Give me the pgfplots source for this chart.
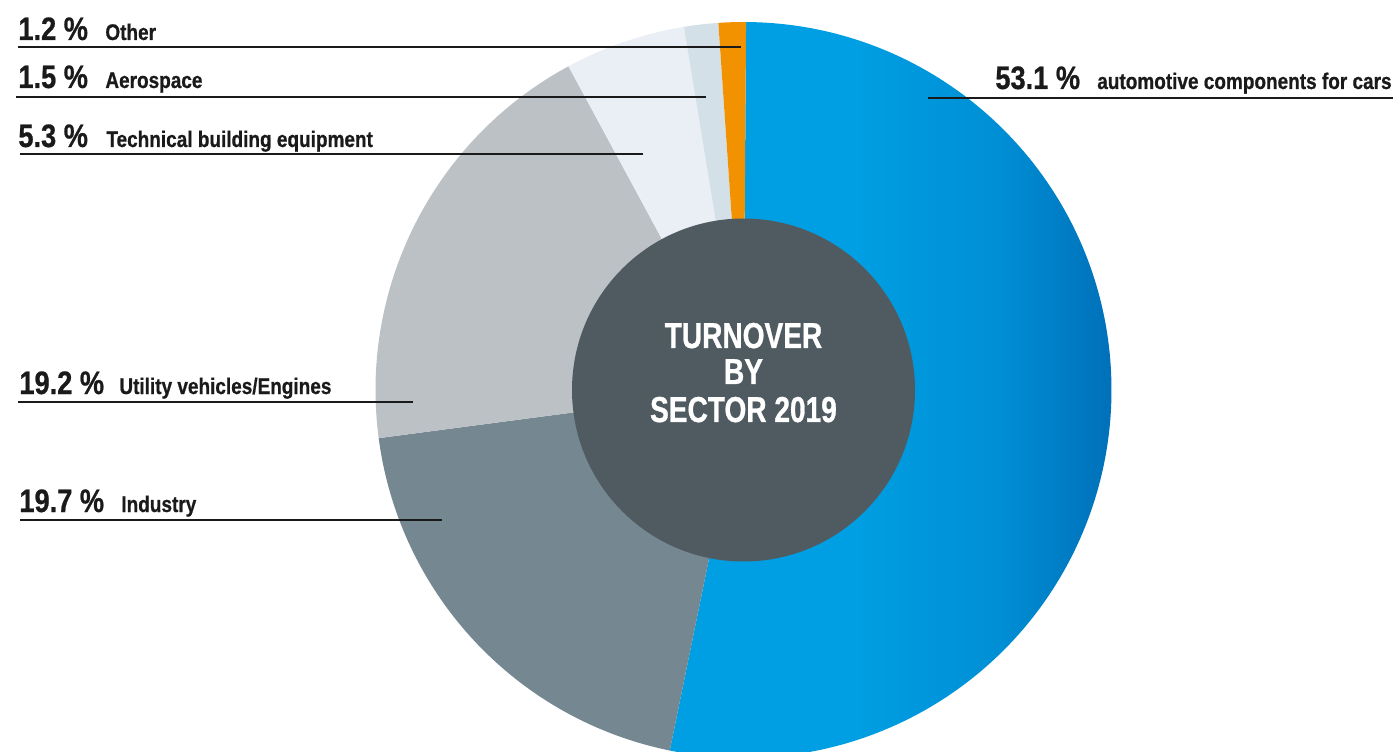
\documentclass[border=0pt]{standalone}
\usepackage{pgfplots}
\pgfplotsset{compat=1.18}
\usepackage{pgfplotstable}
\usepackage{fontspec}
\setmainfont{Liberation Sans}
\newfontfamily\condL[FakeStretch=0.84,FakeBold=0.7]{Liberation Sans}
\newfontfamily\condC[FakeStretch=0.78,FakeBold=0.8]{Liberation Sans}

\definecolor{cAutoA}{HTML}{009FE3}
\definecolor{cAutoM}{HTML}{008FD5}
\definecolor{cAutoB}{HTML}{0070B9}
\definecolor{cInd}{HTML}{758791}
\definecolor{cUtil}{HTML}{BCC1C5}
\definecolor{cTech}{HTML}{E9EFF4}
\definecolor{cAero}{HTML}{D3E0E8}
\definecolor{cOther}{HTML}{F39200}
\definecolor{cCenter}{HTML}{505B61}
\definecolor{cText}{HTML}{1A1A1A}

\pgfdeclarehorizontalshading{autoshade}{100bp}{color(0bp)=(cAutoA); color(45bp)=(cAutoA); color(62bp)=(cAutoM); color(75bp)=(cAutoB); color(100bp)=(cAutoB)}

\tikzset{
  sAuto/.style={shade, shading=autoshade, draw=none},
  sInd/.style={fill=cInd, draw=none},
  sUtil/.style={fill=cUtil, draw=none},
  sTech/.style={fill=cTech, draw=none},
  sAero/.style={fill=cAero, draw=none},
  sOther/.style={fill=cOther, draw=none},
}

\newcommand\bignum{\condL\bfseries\fontsize{16.2}{16.2}\selectfont}
\newcommand\lab{\condL\bfseries\fontsize{11.3}{11.3}\selectfont}
\newcommand\ctr{\condC\bfseries\fontsize{18}{18}\selectfont}

% shares of turnover by sector 2019 (clockwise from 12 o'clock)
\pgfplotstableread{
share style
53.1 sAuto
19.7 sInd
19.2 sUtil
5.3 sTech
1.5 sAero
1.2 sOther
}\piedata

\begin{document}
\begin{tikzpicture}
\useasboundingbox (0,0) rectangle (699.5pt,375.5pt);
\clip (0,0) rectangle (699.5pt,375.5pt);
\begin{axis}[
  at={(0,0)}, anchor=south west,
  x=0.5pt, y=0.5pt,
  xmin=0, xmax=1399, ymin=0, ymax=751,
  enlargelimits=false,
  hide axis,
  clip=false,
]
\pgfplotsextra{%
  \xdef\angA{89.6}%
  \pgfplotstablegetrowsof{\piedata}%
  \pgfmathtruncatemacro\lastrow{\pgfplotsretval-1}%
  \foreach \i in {0,...,\lastrow}{%
    \pgfplotstablegetelem{\i}{share}\of\piedata \let\v\pgfplotsretval
    \pgfplotstablegetelem{\i}{style}\of\piedata \let\s\pgfplotsretval
    \pgfmathsetmacro\angB{\angA-3.6*\v}%
    \pgfmathsetmacro\xs{743.5+368*cos(\angA)}%
    \pgfmathsetmacro\ys{361+368*sin(\angA)}%
    \path[\s] (axis cs:743.5,361) -- (axis cs:\xs,\ys) arc[start angle=\angA, end angle=\angB, radius=184pt] -- cycle;
    \xdef\angA{\angB}%
  }%
  \fill[cCenter] (axis cs:743.5,361) circle[radius=85.75pt];
}

% leader lines
\addplot[cText, line width=1pt] coordinates {(18,704) (741,704)};
\addplot[cText, line width=1pt] coordinates {(16,654) (706,654)};
\addplot[cText, line width=1pt] coordinates {(20,597) (643,597)};
\addplot[cText, line width=1pt] coordinates {(18,349) (413,349)};
\addplot[cText, line width=1pt] coordinates {(20,231) (442,231)};
\addplot[cText, line width=1pt] coordinates {(928,653) (1393,653)};

% labels
\node[anchor=base west, inner sep=0, text=cText] at (axis cs:18,711) {\bignum 1.2 \%};
\node[anchor=base west, inner sep=0, text=cText] at (axis cs:105,711) {\lab Other};
\node[anchor=base west, inner sep=0, text=cText] at (axis cs:18,663) {\bignum 1.5 \%};
\node[anchor=base west, inner sep=0, text=cText] at (axis cs:105,663) {\lab Aerospace};
\node[anchor=base west, inner sep=0, text=cText] at (axis cs:18,604) {\bignum 5.3 \%};
\node[anchor=base west, inner sep=0, text=cText] at (axis cs:106,604) {\lab Technical building equipment};
\node[anchor=base west, inner sep=0, text=cText] at (axis cs:19,357) {\bignum 19.2 \%};
\node[anchor=base west, inner sep=0, text=cText] at (axis cs:119,357) {\lab Utility vehicles/Engines};
\node[anchor=base west, inner sep=0, text=cText] at (axis cs:19,239) {\bignum 19.7 \%};
\node[anchor=base west, inner sep=0, text=cText] at (axis cs:121,239) {\lab Industry};
\node[anchor=base west, inner sep=0, text=cText] at (axis cs:995,662) {\bignum 53.1 \%};
\node[anchor=base east, inner sep=0, text=cText] at (axis cs:1392,662) {\lab automotive components for cars};

% centre title
\node[anchor=base, inner sep=0, text=white] at (axis cs:743.5,403) {\ctr TURNOVER};
\node[anchor=base, inner sep=0, text=white] at (axis cs:743.5,367) {\ctr BY};
\node[anchor=base, inner sep=0, text=white] at (axis cs:743.5,329) {\ctr SECTOR 2019};
\end{axis}
\end{tikzpicture}
\end{document}
